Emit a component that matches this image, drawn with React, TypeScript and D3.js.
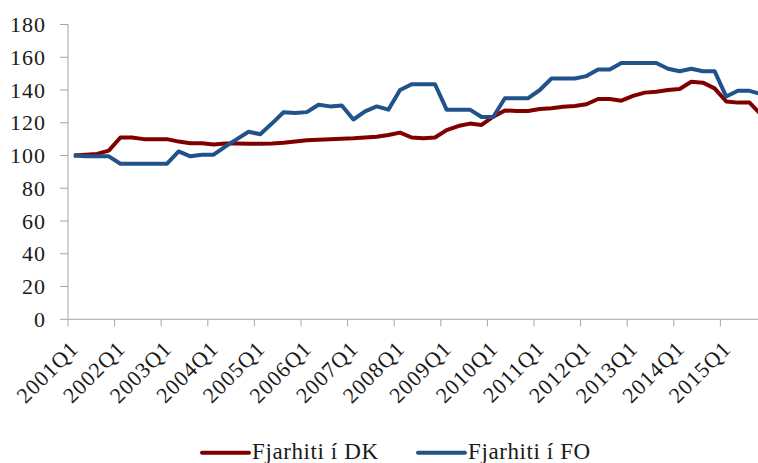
import * as d3 from 'd3'

const yTicks = [0, 20, 40, 60, 80, 100, 120, 140, 160, 180]
const xTickLabels = [
  '2001Q1', '2002Q1', '2003Q1', '2004Q1', '2005Q1', '2006Q1', '2007Q1', '2008Q1',
  '2009Q1', '2010Q1', '2011Q1', '2012Q1', '2013Q1', '2014Q1', '2015Q1',
]

// quarterly index, 2001Q1 = 100 (2001Q1 .. 2015Q4)
const fjarhitiDK = [
  100, 100.5, 101, 103, 111, 111, 110, 110, 110, 108.5,
  107.5, 107.5, 106.8, 107.3, 107.3, 107.2, 107.2, 107.3, 107.8, 108.5,
  109.3, 109.7, 110, 110.3, 110.5, 111, 111.5, 112.5, 114, 111,
  110.5, 111, 115.5, 118, 119.5, 118.7, 123.7, 127.5, 127.2, 127.2,
  128.4, 128.8, 129.8, 130.2, 131.3, 134.5, 134.5, 133.5, 136.4, 138.4,
  139, 140, 140.6, 145, 144.5, 141, 133, 132.3, 132.3, 125,
]
const fjarhitiFO = [
  100, 99.5, 99.5, 99.5, 95, 95, 95, 95, 95, 102.5,
  99.5, 100.5, 100.5, 105.5, 110, 114.5, 113, 119.5, 126.4, 126,
  126.5, 131, 130, 130.5, 122, 127, 130, 128, 140, 143.5,
  143.5, 143.5, 128, 128, 128, 123.5, 123.5, 135, 135, 135,
  140, 147, 147, 147, 148.5, 152.5, 152.5, 156.5, 156.5, 156.5,
  156.5, 153, 151.5, 153, 151.5, 151.5, 136, 139.5, 139.5, 137.5,
]

const series = [
  { name: 'Fjarhiti í DK', values: fjarhitiDK, color: '#800000' },
  { name: 'Fjarhiti í FO', values: fjarhitiFO, color: '#22528a' },
]

const W = 758
const H = 463
const FONT = "'Liberation Serif', 'Times New Roman', serif"

export default function App() {
  const n = fjarhitiDK.length
  const x = d3.scaleLinear().domain([0, n]).range([68, 68 + n * 11.65])
  const y = d3.scaleLinear().domain([0, 180]).range([319.3, 24.5])

  const line = d3
    .line<number>()
    .x((_, i) => x(i + 0.5))
    .y((d) => y(d))

  const axisColor = '#a6a6a6'
  const textColor = '#1a1a1a'
  const textStyle = { fontFamily: FONT }

  return (
    <div style={{ position: 'absolute', left: 0, top: 0 }}>
      <svg width={W} height={H} style={{ display: 'block', background: '#fff' }}>
        {/* y axis */}
        <line x1={x(0)} x2={x(0)} y1={y(180)} y2={y(0)} stroke={axisColor} strokeWidth={1} />
        {yTicks.map((t) => (
          <g key={t}>
            <line x1={x(0) - 8} x2={x(0)} y1={y(t)} y2={y(t)} stroke={axisColor} strokeWidth={1} />
            <text
              x={46}
              y={y(t)}
              dy="0.35em"
              textAnchor="end"
              style={textStyle}
              fontSize={22}
              letterSpacing={1}
              fill={textColor}
            >
              {t}
            </text>
          </g>
        ))}

        {/* x axis */}
        <line x1={x(0)} x2={W} y1={y(0)} y2={y(0)} stroke={axisColor} strokeWidth={1} />
        {xTickLabels.map((lab, k) => {
          const i = k * 4
          const tx = x(i)
          const lx = x(i + 0.5) + 6
          const ly = 350
          return (
            <g key={lab}>
              <line x1={tx} x2={tx} y1={y(0)} y2={y(0) + 7} stroke={axisColor} strokeWidth={1} />
              <text
                x={lx}
                y={ly}
                textAnchor="end"
                transform={`rotate(-45, ${lx}, ${ly})`}
                style={textStyle}
                fontSize={22}
                letterSpacing={1}
                fill={textColor}
              >
                {lab}
              </text>
            </g>
          )
        })}

        {/* series */}
        {series.map((s) => (
          <path
            key={s.name}
            d={line(s.values) ?? ''}
            fill="none"
            stroke={s.color}
            strokeWidth={4}
            strokeLinejoin="round"
          />
        ))}

        {/* legend */}
        {series.map((s, k) => {
          const lx0 = k === 0 ? 202 : 418
          const ly = 452.7
          return (
            <g key={s.name}>
              <line x1={lx0} x2={lx0 + 47} y1={ly} y2={ly} stroke={s.color} strokeWidth={4} strokeLinecap="round" />
              <text
                x={lx0 + 50}
                y={459}
                style={textStyle}
                fontSize={23}
                letterSpacing={0.6}
                fill={textColor}
              >
                {s.name}
              </text>
            </g>
          )
        })}
      </svg>
    </div>
  )
}
